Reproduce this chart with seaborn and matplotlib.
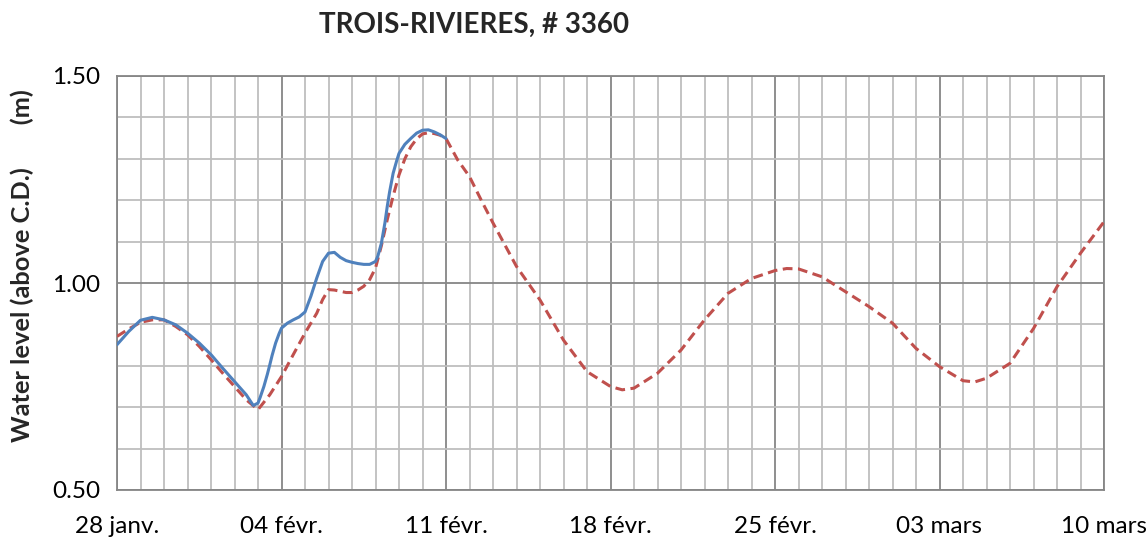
import matplotlib
matplotlib.use("Agg")
import matplotlib.pyplot as plt
from matplotlib.ticker import MultipleLocator
import seaborn as sns
import pandas as pd

# ---------------- data ----------------
title = "TROIS-RIVIERES, # 3360"
ylabel = "Water level (above C.D.)       (m)"
tick_labels = ["28 janv.", "04 févr.", "11 févr.", "18 févr.", "25 févr.", "03 mars", "10 mars"]

# days since 28 janv.
observed_days = [0, 0.5, 1, 1.5, 2, 2.5, 3, 3.5, 4, 4.5, 5, 5.5, 5.8, 6, 6.1, 6.25, 6.4,
                 6.5, 6.6, 6.75, 6.9, 7, 7.25, 7.5, 7.75, 8, 8.25, 8.5, 8.75, 9, 9.25,
                 9.5, 9.75, 10, 10.25, 10.5, 10.75, 11, 11.1, 11.25, 11.4, 11.5, 11.6,
                 11.75, 11.9, 12, 12.25, 12.5, 12.75, 13, 13.25, 13.5, 13.75, 14]
observed_level = [0.851, 0.883, 0.910, 0.917, 0.911, 0.899, 0.879, 0.855, 0.827, 0.794,
                  0.762, 0.730, 0.704, 0.710, 0.725, 0.750, 0.780, 0.802, 0.825, 0.855,
                  0.878, 0.891, 0.903, 0.911, 0.918, 0.930, 0.968, 1.012, 1.052, 1.072,
                  1.074, 1.062, 1.054, 1.050, 1.047, 1.045, 1.045, 1.052, 1.065, 1.096,
                  1.145, 1.185, 1.220, 1.265, 1.295, 1.313, 1.335, 1.349, 1.362, 1.369,
                  1.370, 1.365, 1.358, 1.349]

predicted_days = [0, 0.5, 1, 1.5, 2, 2.5, 3, 3.5, 4, 4.5, 5, 5.5, 6, 6.5, 7, 7.5, 8, 8.5,
                  8.75, 9, 9.25, 9.5, 9.75, 10, 10.25, 10.5, 10.75, 11, 11.25, 11.5,
                  11.75, 12, 12.25, 12.5, 12.75, 13, 13.25, 13.5, 13.75, 14, 14.5, 15,
                  15.5, 16, 17, 18, 19, 20, 21, 21.5, 22, 23, 24, 25, 26, 27, 28, 28.5,
                  29, 30, 31, 32, 33, 34, 35, 36, 36.5, 37, 38, 39, 40, 41, 42]
predicted_level = [0.871, 0.889, 0.905, 0.911, 0.911, 0.895, 0.875, 0.847, 0.815, 0.782,
                   0.750, 0.718, 0.694, 0.730, 0.774, 0.827, 0.879, 0.927, 0.960, 0.984,
                   0.983, 0.980, 0.977, 0.977, 0.983, 0.992, 1.008, 1.036, 1.090, 1.153,
                   1.210, 1.261, 1.300, 1.329, 1.348, 1.360, 1.363, 1.361, 1.357, 1.349,
                   1.297, 1.257, 1.200, 1.145, 1.040, 0.959, 0.862, 0.786, 0.750, 0.742,
                   0.746, 0.782, 0.838, 0.911, 0.975, 1.011, 1.030, 1.035, 1.034, 1.015,
                   0.979, 0.943, 0.903, 0.842, 0.798, 0.764, 0.761, 0.770, 0.806, 0.890,
                   0.991, 1.072, 1.148]

obs_df = pd.DataFrame({"day": observed_days, "level": observed_level})
pred_df = pd.DataFrame({"day": predicted_days, "level": predicted_level})

# ---------------- style ----------------
sns.set_theme(style="white")
plt.rcParams["font.family"] = ["Lato", "DejaVu Sans"]

fig = plt.figure(figsize=(11.48, 5.39), dpi=100)
ax = fig.add_axes([117 / 1148, 1 - 490 / 539, (1104 - 117) / 1148, (490 - 76) / 539])

major_c = "#868686"
minor_c = "#BEBEBE"

sns.lineplot(data=pred_df, x="day", y="level", ax=ax, color="#C0504D", lw=2.2,
             linestyle=(0, (3.2, 1.8)), zorder=3)
sns.lineplot(data=obs_df, x="day", y="level", ax=ax, color="#4F81BD", lw=2.2, zorder=4)

ax.set_xlim(0, 42)
ax.set_ylim(0.5, 1.5)
ax.xaxis.set_minor_locator(MultipleLocator(1))
ax.yaxis.set_minor_locator(MultipleLocator(0.1))
ax.set_xticks(range(0, 43, 7))
ax.set_xticklabels(tick_labels)
ax.set_yticks([0.5, 1.0, 1.5])
ax.set_yticklabels(["0.50", "1.00", "1.50"])

ax.grid(which="minor", color=minor_c, lw=1.3, zorder=0)
ax.grid(which="major", color=major_c, lw=1.3, zorder=1)
ax.set_axisbelow(True)

for s in ax.spines.values():
    s.set_color(major_c)
    s.set_linewidth(1.3)

ax.tick_params(axis="both", which="major", direction="out", length=7, width=1.3,
               color=major_c, labelsize=17.5, labelcolor="black")
ax.tick_params(axis="x", which="major", pad=12)
ax.tick_params(axis="y", which="major", pad=5)
ax.tick_params(axis="both", which="minor", length=0)

ax.set_xlabel("")
ax.set_ylabel("")

fig.text(474 / 1148, 1 - 25 / 539, title, ha="center", va="center",
         fontsize=20, fontweight="bold")
fig.text(22 / 1148, 1 - 266 / 539, ylabel, ha="center", va="center",
         rotation=90, fontsize=18.3, fontweight="bold")

fig.savefig("out.png", dpi=100)
